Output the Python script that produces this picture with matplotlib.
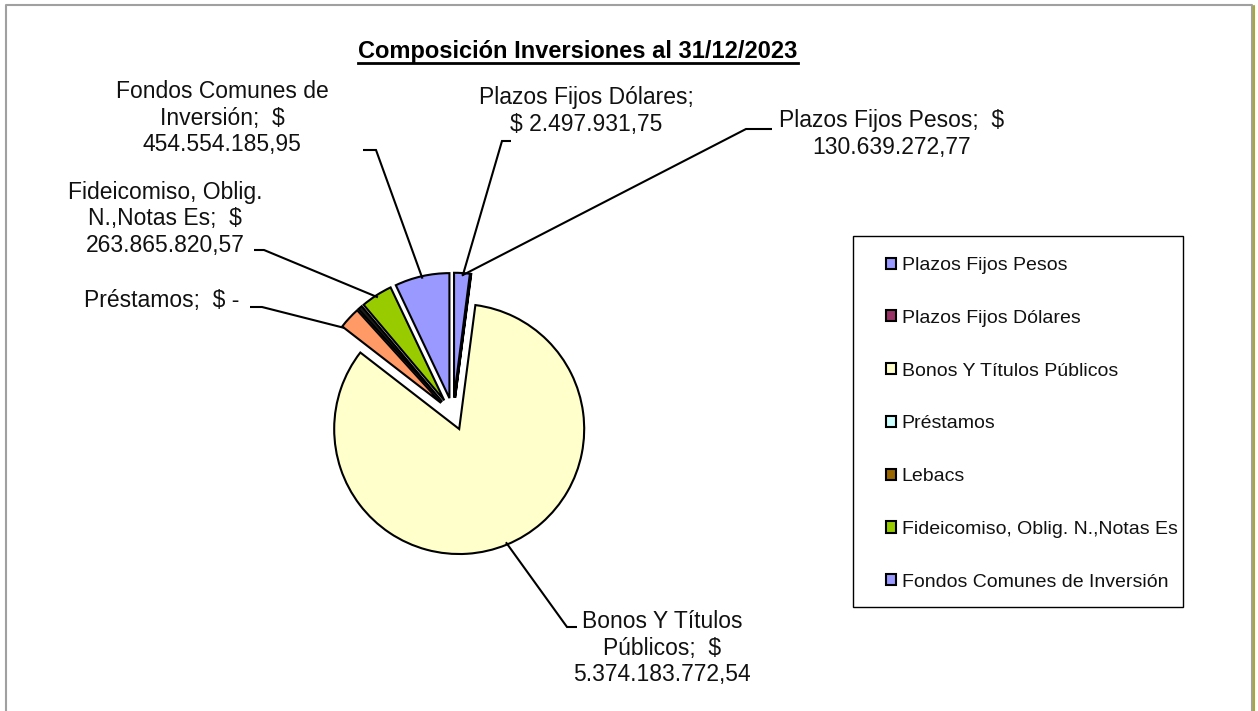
import matplotlib.pyplot as plt
from matplotlib import font_manager
from matplotlib.patches import Patch, Rectangle
import numpy as np

# categories and values (pesos) as shown in the chart
categories = [
    "Plazos Fijos Pesos", "Plazos Fijos Dólares", "Bonos Y Títulos Públicos",
    "Préstamos", "Lebacs", "Fideicomiso, Oblig. N.,Notas Es",
    "Fondos Comunes de Inversión",
]
label_amounts = [130639272.77, 2497931.75, 5374183772.54, 0.0, None,
                 263865820.57, 454554185.95]
# slice sizes: labelled amounts, Préstamos / Lebacs estimated from the drawn slices
slice_amounts = [130639272.77, 2497931.75, 5374183772.54, 181000000.0,
                 36000000.0, 263865820.57, 454554185.95]
# how the label names wrap on the chart
label_names = [
    "Plazos Fijos Pesos;  $\n", "Plazos Fijos Dólares;\n$ ",
    "Bonos Y Títulos\nPúblicos;  $\n", "Préstamos;  $ ", None,
    "Fideicomiso, Oblig.\nN.,Notas Es;  $\n", "Fondos Comunes de\nInversión;  $\n",
]
pie_colors = ["#9999FF", "#993366", "#FFFFCC", "#FF9966", "#1a1a1a", "#99CC00", "#9999FF"]
legend_colors = ["#9999FF", "#993366", "#FFFFCC", "#CCFFFF", "#996600", "#99CC00", "#9999FF"]
title = "Composición Inversiones al 31/12/2023"

installed = {f.name for f in font_manager.fontManager.ttflist}
font = "Liberation Sans" if "Liberation Sans" in installed else "DejaVu Sans"
plt.rcParams["font.family"] = [font, "DejaVu Sans"]

W, H = 1258, 711
fig = plt.figure(figsize=(W / 100, H / 100), dpi=100)
ax = fig.add_axes([0, 0, 1, 1])


def py(y):
    # pixel row (from top) -> axes y
    return H - y


def ars(v):
    s = f"{v:,.2f}"
    return s.replace(",", "X").replace(".", ",").replace("X", ".")


R = 125
wedges, _ = ax.pie(slice_amounts, colors=pie_colors, startangle=90, counterclock=False,
                   explode=[0.13 * R] * len(slice_amounts), radius=R, center=(453, py(414)),
                   wedgeprops=dict(edgecolor="black", linewidth=1.5), frame=True)
ax.set_xlim(0, W)
ax.set_ylim(0, H)
ax.axis("off")

# chart area border
ax.plot([5.5, 5.5, 1251.5, 1251.5], [py(711), py(5), py(5), py(711)], color="#a0a0a0", lw=1.5)
ax.plot([1253.5, 1253.5], [py(6), py(711)], color="#9a9a00", lw=1.2)


def anchor(i, frac=1.0, shift=0.0):
    w = wedges[i]
    t = np.deg2rad((w.theta1 + w.theta2) / 2 + shift)
    cx, cy = w.center
    return cx + R * frac * np.cos(t), cy + R * frac * np.sin(t)


# label layout: text centre (px), elbow start, elbow end, angle shift on slice
layout = {
    6: ((222, 118), (363, 150), (376, 150), 0.0),
    5: ((165, 219), (254, 250), (264, 250), 0.0),
    3: ((162, 300), (250, 307), (262, 307), 5.0),
    1: ((586, 111), (511, 141), (502, 141), 3.8),
    0: ((892, 134), (772, 129), (746, 129), 0.0),
    2: ((662, 648), (577, 627), (567, 627), 0.0),
}
for i, ((tx, ty), (x1, y1), (x2, y2), shift) in layout.items():
    if label_amounts[i]:
        txt = label_names[i] + ars(label_amounts[i])
    else:
        txt = label_names[i] + "-"
    ax.text(tx, py(ty), txt, ha="center", va="center", fontsize=16.5,
            color="#111111", linespacing=1.2)
    ax_, ay_ = anchor(i, 0.98, shift)
    ax.plot([x1, x2, ax_], [py(y1), py(y2), ay_], color="black", lw=1.5,
            solid_capstyle="butt", solid_joinstyle="miter")

# title with underline
t = ax.text(578, py(58), title, ha="center", va="baseline", fontsize=17,
            fontweight="bold", color="black")
fig.canvas.draw()
bb = t.get_window_extent()
ax.plot([bb.x0, bb.x1], [py(63), py(63)], color="black", lw=2)

# legend box
ax.add_patch(Rectangle((853, py(607)), 330, 371, facecolor="white",
                       edgecolor="black", lw=1.0, zorder=3))
handles = [Patch(facecolor=c, edgecolor="black", linewidth=1.5) for c in legend_colors]
leg = ax.legend(handles, categories, loc="upper left",
                bbox_to_anchor=(886 / W, 1 - 257 / H), frameon=False,
                fontsize=14, labelspacing=1.84, handlelength=0.5, handleheight=0.5,
                handletextpad=0.3, borderpad=0, borderaxespad=0)
leg.set_zorder(4)
for txt in leg.get_texts():
    txt.set_color("#111111")

fig.savefig("out.png", dpi=100)
